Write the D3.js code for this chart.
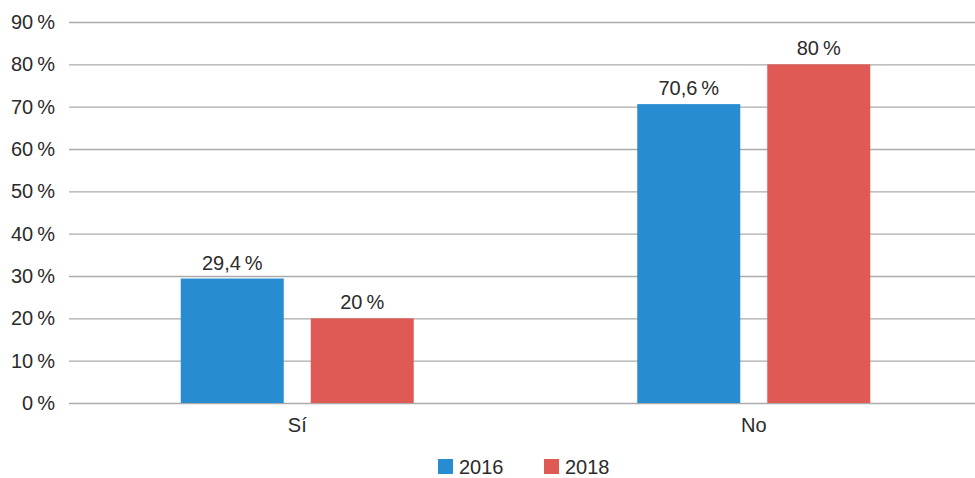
<!DOCTYPE html>
<html>
<head>
<meta charset="utf-8">
<script src="https://cdn.jsdelivr.net/npm/d3@7"></script>
<style>
  body { margin: 0; background: #fff; }
  text { font-family: "Liberation Sans", Arial, sans-serif; fill: #2b2b2b; }
</style>
</head>
<body>
<div id="plot"></div>
<script>
// data
const categories = ["Sí", "No"];
const years = ["2016", "2018"];
const values2016 = [29.4, 70.6];
const values2018 = [20, 80];
const yTicks = [0, 10, 20, 30, 40, 50, 60, 70, 80, 90];
const colors = ["#288cd0", "#e05a55"];

const svgWidth = 975;
const svgHeight = 478;
const margin = { top: 22, right: 0, bottom: 75, left: 69 };
const width = svgWidth - margin.left - margin.right;
const height = svgHeight - margin.top - margin.bottom;

const fmt = (v) => String(v).replace(".", ",") + "\u2009%";

const svg = d3
  .select("div#plot")
  .append("svg")
  .attr("width", svgWidth)
  .attr("height", svgHeight);

const g = svg
  .append("g")
  .attr("transform", "translate(" + margin.left + "," + margin.top + ")");

// plot area runs a bit past the right edge in the original
const x0 = d3.scaleBand().domain(categories).range([0, 913]);
const x1 = d3
  .scaleBand()
  .domain(years)
  .range([0, 233])
  .paddingInner(27 / 130);
const y = d3.scaleLinear().domain([0, 90]).range([height, 0]);

// gridlines + y labels
const yAxis = d3
  .axisLeft(y)
  .tickValues(yTicks)
  .tickSize(-width)
  .tickPadding(14)
  .tickFormat((d) => d + "\u2009%");
const ya = g.append("g").call(yAxis);
ya.select(".domain").remove();
ya.selectAll(".tick line").attr("stroke", "#ababab").attr("stroke-width", 1.3);
ya.selectAll(".tick text")
  .style("font-size", "20px")
  .style("font-family", "'Liberation Sans', Arial, sans-serif")
  .attr("fill", "#2b2b2b");

// bars
const rows = categories.map((c, i) => ({
  cat: c,
  vals: [values2016[i], values2018[i]],
}));

const groups = g
  .selectAll(".grp")
  .data(rows)
  .enter()
  .append("g")
  .attr("class", "grp")
  .attr(
    "transform",
    (d) => "translate(" + (x0(d.cat) + (x0.bandwidth() - 233) / 2) + ",0)"
  );

groups
  .selectAll("rect")
  .data((d) => d.vals.map((v, j) => ({ year: years[j], v: v, j: j })))
  .enter()
  .append("rect")
  .attr("x", (d) => x1(d.year))
  .attr("y", (d) => y(d.v))
  .attr("width", x1.bandwidth())
  .attr("height", (d) => height - y(d.v))
  .attr("fill", (d) => colors[d.j]);

groups
  .selectAll(".val")
  .data((d) => d.vals.map((v, j) => ({ year: years[j], v: v })))
  .enter()
  .append("text")
  .attr("class", "val")
  .attr("x", (d) => x1(d.year) + x1.bandwidth() / 2)
  .attr("y", (d) => y(d.v) - 9)
  .attr("text-anchor", "middle")
  .style("font-size", "20px")
  .text((d) => fmt(d.v));

// category labels
g.selectAll(".cat")
  .data(categories)
  .enter()
  .append("text")
  .attr("class", "cat")
  .attr("x", (d) => x0(d) + x0.bandwidth() / 2)
  .attr("y", height + 29)
  .attr("text-anchor", "middle")
  .style("font-size", "20px")
  .text((d) => d);

// legend
const legendX = [438, 544];
const legend = svg
  .selectAll(".legend")
  .data(years)
  .enter()
  .append("g")
  .attr("class", "legend")
  .attr("transform", (d, i) => "translate(" + legendX[i] + ",459)");
legend
  .append("rect")
  .attr("width", 15)
  .attr("height", 15)
  .attr("fill", (d, i) => colors[i]);
legend
  .append("text")
  .attr("x", 21)
  .attr("y", 15)
  .style("font-size", "20px")
  .text((d) => d);
</script>
</body>
</html>
